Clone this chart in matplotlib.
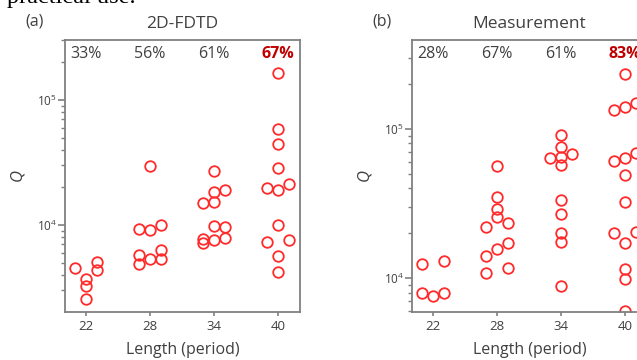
import numpy as np
import matplotlib
matplotlib.use("Agg")
import matplotlib.pyplot as plt
from matplotlib.ticker import LogLocator, NullFormatter, FixedLocator

plt.rcParams['font.family'] = ['Open Sans', 'DejaVu Sans']
plt.rcParams['mathtext.fontset'] = 'custom'
plt.rcParams['mathtext.rm'] = 'Open Sans'
plt.rcParams['mathtext.it'] = 'Open Sans:italic'

lengths = [22, 28, 34, 40]

# 2D-FDTD: Q values per length and the horizontal jitter used in the figure
sim_q = {
    22: [4550, 3680, 3250, 2560, 5080, 4350],
    28: [9290, 5750, 4880, 9120, 5350, 29800, 9940, 6310, 5320],
    34: [14920, 7690, 7220, 15280, 18370, 9870, 7630, 27200, 18960, 9590, 7830],
    40: [19770, 7310, 19050, 10000, 5620, 4180, 165000, 58600, 44500, 28400, 21280, 7630],
}
sim_dx = {
    22: [-1, 0, 0, 0, 1, 1],
    28: [-1, -1, -1, 0, 0, 0, 1, 1, 1],
    34: [-1, -1, -1, 0, 0, 0, 0, 0, 1, 1, 1],
    40: [-1, -1, 0, 0, 0, 0, 0, 0, 0, 0, 1, 1],
}
sim_pct = ['33%', '56%', '61%', '67%']

# Measurement
meas_q = {
    22: [12400, 7940, 7610, 13000, 7940],
    28: [22100, 14000, 10800, 56500, 34900, 29100, 25900, 15600, 23500, 17300, 11700],
    34: [64000, 91600, 75700, 64900, 57100, 33400, 27000, 20000, 17400, 8880, 68400],
    40: [134000, 60800, 20000, 233000, 141000, 64000, 49200, 32300, 17100, 11540, 9890, 6060,
         148600, 69300, 20300],
}
meas_dx = {
    22: [-1, -1, 0, 1, 1],
    28: [-1, -1, -1, 0, 0, 0, 0, 0, 1, 1, 1],
    34: [-1, 0, 0, 0, 0, 0, 0, 0, 0, 0, 1],
    40: [-1, -1, -1, 0, 0, 0, 0, 0, 0, 0, 0, 0, 1, 1, 1],
}
meas_pct = ['28%', '67%', '61%', '83%']

grey = '#808080'
txt = '#404040'
red = '#ff2a2a'
dark_red = '#c00000'

fig = plt.figure(figsize=(6.37, 3.6), dpi=100)
ax1 = fig.add_axes([65 / 637, 48 / 360, 235 / 637, 272 / 360])
ax2 = fig.add_axes([412 / 637, 48 / 360, 235 / 637, 272 / 360])


def draw(ax, qs, dxs, pcts, ylim, title):
    for L in lengths:
        x = np.array(dxs[L]) + L
        ax.plot(x, qs[L], linestyle='none', marker='o', markersize=7.6,
                markerfacecolor='none', markeredgecolor=red, markeredgewidth=1.3)
    ax.set_yscale('log')
    ax.set_ylim(*ylim)
    ax.set_xlim(20.03, 42.06)
    ax.xaxis.set_major_locator(FixedLocator(lengths))
    ax.set_xticklabels([str(v) for v in lengths])
    ax.yaxis.set_major_locator(LogLocator(base=10))
    ax.yaxis.set_minor_locator(LogLocator(base=10, subs=np.arange(2, 10)))
    ax.yaxis.set_minor_formatter(NullFormatter())
    ax.yaxis.set_major_formatter(plt.FuncFormatter(
        lambda v, p: r'$10^{%d}$' % round(np.log10(v))))
    for s in ax.spines.values():
        s.set_color(grey)
        s.set_linewidth(1.3)
    ax.tick_params(axis='x', direction='out', length=3, width=1.2, color=grey,
                   labelsize=9.5, labelcolor=txt, pad=3)
    ax.tick_params(axis='y', which='major', direction='out', length=5, width=1.2,
                   color=grey, labelsize=8.5, labelcolor=txt, pad=1)
    ax.tick_params(axis='y', which='minor', direction='out', length=3, width=1.0,
                   color=grey)
    ax.set_xlabel('Length (period)', fontsize=11.5, color=txt, labelpad=6)
    ax.set_ylabel('$Q$', fontsize=12, color=txt, labelpad=7)
    ax.set_title(title, fontsize=12.5, color=txt, pad=9)
    for i, L in enumerate(lengths):
        last = i == len(lengths) - 1
        ax.text(L, 0.95, pcts[i], transform=ax.get_xaxis_transform(),
                ha='center', va='center', fontsize=11.5,
                color=dark_red if last else txt,
                fontweight='bold' if last else 'normal')


draw(ax1, sim_q, sim_dx, sim_pct, (2014, 3.02e5), '2D-FDTD')
draw(ax2, meas_q, meas_dx, meas_pct, (5940, 3.95e5), 'Measurement')

fig.text(35 / 637, 1 - 22 / 360, '(a)', ha='center', va='center', fontsize=11.5, color=txt)
fig.text(382 / 637, 1 - 22 / 360, '(b)', ha='center', va='center', fontsize=11.5, color=txt)
fig.text(7 / 637, 1 - 3 / 360, 'practical use.', ha='left', va='baseline',
         fontsize=17.5, family='Liberation Serif', color='black')

fig.savefig('out.png', dpi=100)
